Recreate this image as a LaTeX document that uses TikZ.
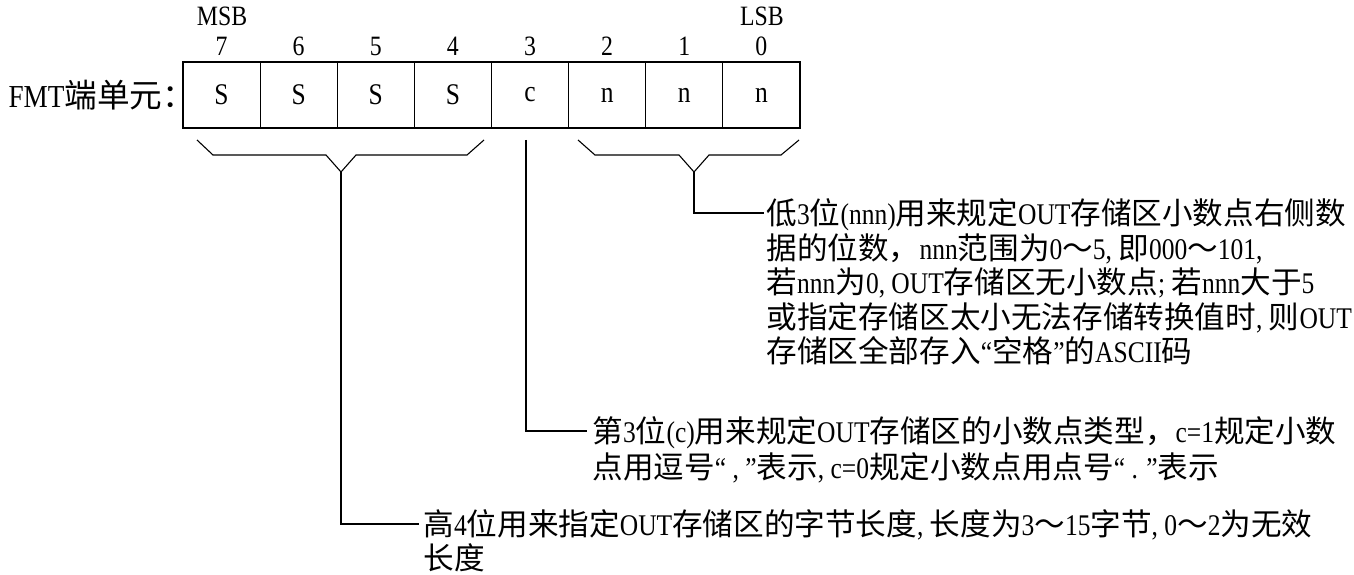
\documentclass[tikz,border=0pt]{standalone}
\usepackage{fontspec}
\setmainfont{Liberation Serif}[FakeStretch=0.85]
\newfontfamily\cjk{Noto Sans CJK SC}[Scale=1.02]
\XeTeXinterchartokenstate=1
\newXeTeXintercharclass\cjkclass
\newcount\cjkcnt
\def\setcjkrange#1#2{\cjkcnt=#1\relax
  \loop\ifnum\cjkcnt<#2\relax \XeTeXcharclass\cjkcnt=\cjkclass \advance\cjkcnt by 1\relax\repeat}
\setcjkrange{"4E00}{"A000}
\setcjkrange{"3000}{"3040}
\setcjkrange{"FF00}{"FFF0}
\XeTeXinterchartoks 0 \cjkclass = {\cjk}
\XeTeXinterchartoks 4095 \cjkclass = {\cjk}
\XeTeXinterchartoks \cjkclass 0 = {\rmfamily}
\XeTeXinterchartoks \cjkclass 4095 = {\rmfamily}
\tikzset{
  cell/.style={draw, minimum width=77.125pt, minimum height=66pt, inner sep=0pt, font=\fontsize{30}{32}\selectfont},
  lbl/.style={inner sep=0pt, font=\fontsize{28}{32}\selectfont},
  txt/.style={inner sep=0pt, anchor=base west, font=\fontsize{30}{35}\selectfont},
}
\begin{document}
\begin{tikzpicture}[x=1pt,y=-1pt,line width=1.1pt]
\useasboundingbox (0,0) rectangle (1354,575);
% cells
\foreach \i/\t [count=\k from 0] in {7/S,6/S,5/S,4/S,3/c,2/n,1/n,0/n}{
  \node[cell] (b\i) at ({183+77.125*(\k+0.5)},95) {\t};
  \node[lbl] (n\i) at ({183+77.125*(\k+0.5)},46) {\i};
}
\node[lbl] (msb) at (222,16) {MSB};
\node[lbl] (lsb) at (762,16) {LSB};
\node[txt, font=\fontsize{32}{35}\selectfont] (fmt) at (8,108) {FMT端单元：};
% braces
\coordinate (apL) at (341,172);
\coordinate (apR) at (694,172);
\coordinate (cs) at (526,140);
\draw (197,140) -- (213,155) -- (326,155) -- (apL) -- (356,155) -- (467,155) -- (484,140);
\draw (578,140) -- (595,155) -- (679,155) -- (apR) -- (709,155) -- (781,155) -- (799,140);
% texts
\node[txt] (t1a) at (766,224.5) {低3位(nnn)用来规定OUT存储区小数点右侧数};
\node[txt] (t1b) at (766,259) {据的位数，nnn范围为0～5, 即000～101,};
\node[txt] (t1c) at (766,293.5) {若nnn为0, OUT存储区无小数点; 若nnn大于5};
\node[txt] (t1d) at (766,328) {或指定存储区太小无法存储转换值时, 则OUT};
\node[txt] (t1e) at (766,362.5) {存储区全部存入“空格”的ASCII码};
\node[txt] (t2a) at (592,442) {第3位(c)用来规定OUT存储区的小数点类型，c=1规定小数};
\node[txt] (t2b) at (592,478) {点用逗号“ , ”表示, c=0规定小数点用点号“ . ”表示};
\node[txt] (t3a) at (423,535) {高4位用来指定OUT存储区的字节长度, 长度为3～15字节, 0～2为无效};
\node[txt] (t3b) at (423,569) {长度};
% connectors
\coordinate (e1) at (764,213);
\coordinate (e2) at (587,431);
\coordinate (e3) at (419,524);
\draw (apR) |- (e1);
\draw (cs) |- (e2);
\draw (apL) |- (e3);
\end{tikzpicture}
\end{document}
